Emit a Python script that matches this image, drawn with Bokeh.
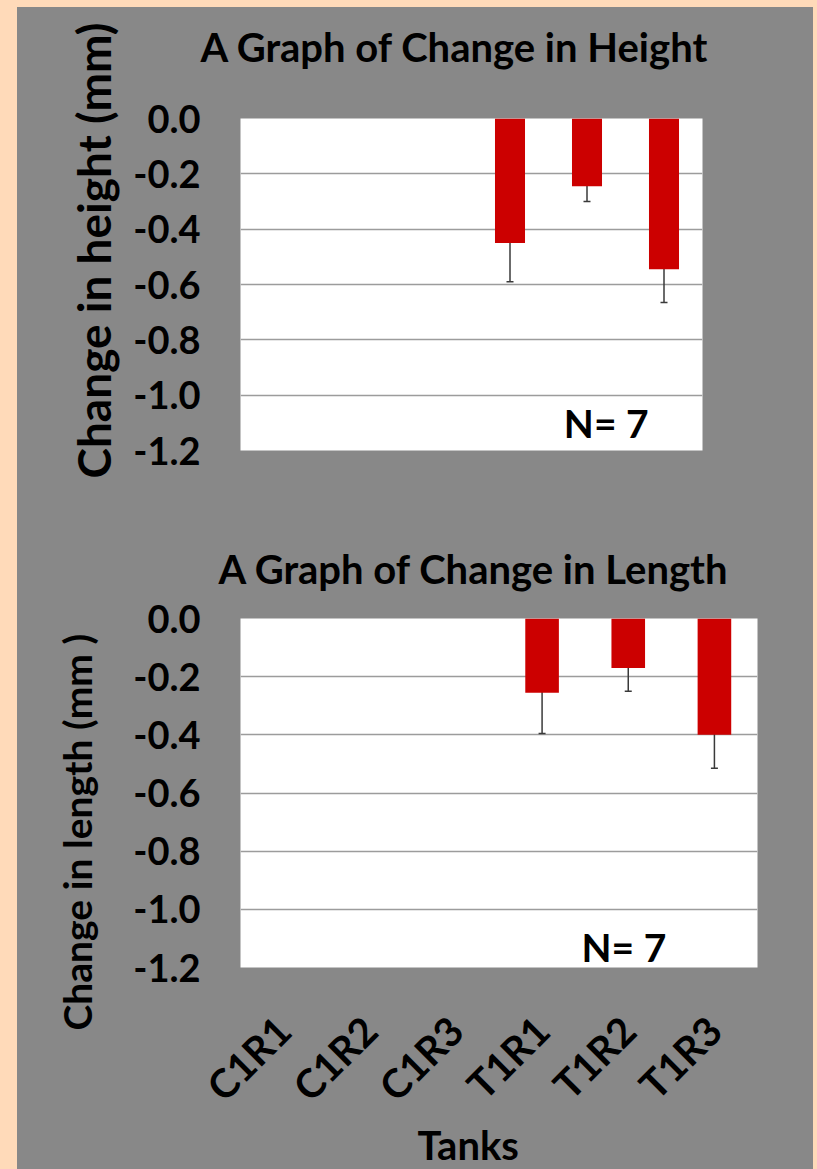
from math import pi
from bokeh.plotting import figure
from bokeh.layouts import column
from bokeh.models import (ColumnDataSource, Range1d, FixedTicker, NumeralTickFormatter,
                          Whisker, TeeHead, Label, Title)
from bokeh.embed import file_html
from bokeh.resources import INLINE

# ---------------- data ----------------
tanks = ["C1R1", "C1R2", "C1R3", "T1R1", "T1R2", "T1R3"]
height_change = [0.0, 0.0, 0.0, -0.45, -0.245, -0.545]
height_err = [0.0, 0.0, 0.0, 0.14, 0.055, 0.12]
length_change = [0.0, 0.0, 0.0, -0.255, -0.17, -0.40]
length_err = [0.0, 0.0, 0.0, 0.14, 0.08, 0.115]
y_ticks = [0.0, -0.2, -0.4, -0.6, -0.8, -1.0, -1.2]

# ---------------- style ----------------
PEACH = "#FFDAB9"
GRAY = "#888888"
BAR = "#CC0000"
FONT = "Lato"


def make_chart(values, errs, title, ylabel, width, height, borders, title_offset,
               title_standoff, spacer, ylabel_offset, ylabel_standoff, ylabel_size,
               n_pos, show_x):
    left, right, top, bottom = borders
    p = figure(x_range=tanks, y_range=Range1d(-1.2, 0.0), width=width, height=height,
               min_border_left=left, min_border_right=right, min_border_top=top,
               min_border_bottom=bottom, toolbar_location=None, output_backend="svg",
               background_fill_color="white", border_fill_color=GRAY,
               outline_line_color=None)
    src = ColumnDataSource(dict(x=tanks, v=values))
    p.vbar(x="x", top="v", bottom=0, width=0.39, source=src, fill_color=BAR,
           line_color=None)
    idx = [i for i, e in enumerate(errs) if e > 0]
    wsrc = ColumnDataSource(dict(x=[tanks[i] for i in idx],
                                 lo=[values[i] - errs[i] for i in idx],
                                 hi=[values[i] + errs[i] for i in idx]))
    w = Whisker(base="x", lower="lo", upper="hi", source=wsrc, line_color="#3a3a3a",
                line_width=1.5,
                lower_head=TeeHead(size=7, line_color="#3a3a3a", line_width=1.5),
                upper_head=None)
    p.add_layout(w)

    # title (spacer panel between frame and title when needed)
    p.title.text = ""
    if spacer > 0:
        p.add_layout(Title(text=" ", text_font_size="1px", standoff=spacer,
                           text_color=GRAY), "above")
    p.add_layout(Title(text=title, align="left", offset=title_offset,
                       standoff=title_standoff, text_font=FONT, text_font_size="40px",
                       text_font_style="bold", text_color="black"), "above")

    # y axis
    ya = p.yaxis[0]
    ya.ticker = FixedTicker(ticks=y_ticks)
    ya.formatter = NumeralTickFormatter(format="0.0")
    ya.major_label_text_font = FONT
    ya.major_label_text_font_size = "38px"
    ya.major_label_text_font_style = "bold"
    ya.major_label_text_color = "black"
    ya.major_label_standoff = 40
    ya.major_tick_out = 0
    ya.major_tick_in = 0
    ya.minor_tick_out = 0
    ya.minor_tick_in = 0
    ya.axis_line_color = None

    yt = Title(text=ylabel, align="left", offset=ylabel_offset, standoff=ylabel_standoff,
               text_font=FONT, text_font_size=ylabel_size, text_font_style="bold",
               text_color="black")
    p.add_layout(yt, "left")

    p.ygrid.ticker = FixedTicker(ticks=y_ticks)
    p.ygrid.grid_line_color = "#9c9c9c"
    p.ygrid.grid_line_width = 1.3
    p.xgrid.grid_line_color = None

    xa = p.xaxis[0]
    if show_x:
        xa.major_label_orientation = pi / 4
        xa.major_label_text_font = FONT
        xa.major_label_text_font_size = "40px"
        xa.major_label_text_font_style = "bold"
        xa.major_label_text_color = "black"
        xa.major_label_standoff = 56
        xa.major_tick_out = 0
        xa.major_tick_in = 0
        xa.axis_line_color = None
        xt = Title(text="Tanks", align="left", offset=177, standoff=-23,
                   text_font=FONT, text_font_size="40px", text_font_style="bold",
                   text_color="black")
        p.add_layout(xt, "below")
    else:
        xa.visible = False

    p.add_layout(Label(x=n_pos[0], y=n_pos[1], text="N= 7", text_align="center",
                       text_baseline="middle", text_font=FONT,
                       text_font_size="39px", text_font_style="bold",
                       text_color="black"))
    return p


p1 = make_chart(height_change, height_err, "A Graph of  Change in Height",
                "Change in height (mm)", 741, 498, (223, 56, 111, 55), -40, 10, 40,
                -28, 20, "46px", (4.75, -1.102), False)
p2 = make_chart(length_change, length_err, "A Graph  of Change in Length",
                "Change in length (mm )", 796, 664, (223, 56, 113, 202), -22, 52, 0,
                -63, 62, "39px", (4.45, -1.128), True)

layout = column(p1, p2, spacing=0,
                styles={"background-color": GRAY,
                        "border-left": "17px solid " + PEACH,
                        "border-right": "4px solid " + PEACH,
                        "border-top": "7px solid " + PEACH})

open("out.html", "w").write(file_html(layout, INLINE))
